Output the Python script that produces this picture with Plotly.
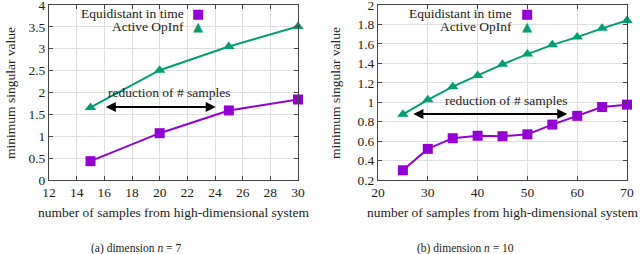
import plotly.graph_objects as go

# ---- data ----
x_a = [15, 20, 25, 30]
equi_a = [0.43, 1.07, 1.59, 1.84]
active_a = [1.66, 2.51, 3.05, 3.51]

x_b = [25, 30, 35, 40, 45, 50, 55, 60, 65, 70]
equi_b = [0.30, 0.52, 0.63, 0.655, 0.65, 0.67, 0.77, 0.86, 0.95, 0.975]
active_b = [0.875, 1.025, 1.16, 1.275, 1.39, 1.495, 1.59, 1.67, 1.76, 1.84]

xt_a = [12, 14, 16, 18, 20, 22, 24, 26, 28, 30]
yt_a = [0, 0.5, 1, 1.5, 2, 2.5, 3, 3.5, 4]
yl_a = ["0", "0.5", "1", "1.5", "2", "2.5", "3", "3.5", "4"]
xt_b = [20, 30, 40, 50, 60, 70]
yt_b = [0.2, 0.4, 0.6, 0.8, 1, 1.2, 1.4, 1.6, 1.8, 2]
yl_b = ["0.2", "0.4", "0.6", "0.8", "1", "1.2", "1.4", "1.6", "1.8", "2"]

arrow_a = [16.0, 24.05, 1.67]   # x start, x end, y
arrow_b = [26.8, 58.0, 0.88]
note_a = [20.7, 2.01]
note_b = [45.9, 1.02]

PURPLE = "#9400D3"
GREEN = "#009E73"
FONT = "Liberation Serif, DejaVu Serif, serif"
TXT = "#222"
FS = 13.5

fig = go.Figure()
for xs, eq, ac, xa, ya in [(x_a, equi_a, active_a, "x", "y"), (x_b, equi_b, active_b, "x2", "y2")]:
    fig.add_trace(go.Scatter(x=xs, y=eq, mode="lines+markers", xaxis=xa, yaxis=ya,
                             line=dict(color=PURPLE, width=2),
                             marker=dict(symbol="square", size=10, color=PURPLE),
                             showlegend=False, cliponaxis=False))
    fig.add_trace(go.Scatter(x=xs, y=ac, mode="lines+markers", xaxis=xa, yaxis=ya,
                             line=dict(color=GREEN, width=2),
                             marker=dict(symbol="triangle-up", size=10, color=GREEN),
                             showlegend=False, cliponaxis=False))

ydom = [1 - 180 / 254, 1 - 5 / 254]
axcommon = dict(showline=True, mirror="allticks", linecolor="#444", linewidth=1,
                ticks="inside", ticklen=4, tickcolor="#444", automargin=False,
                ticklabeloverflow="allow",
                showgrid=True, gridcolor="#dedede", gridwidth=1, zeroline=False,
                tickfont=dict(family=FONT, size=FS, color=TXT))

fig.update_layout(
    width=640, height=254, margin=dict(l=0, r=0, t=0, b=0),
    paper_bgcolor="white", plot_bgcolor="white",
    font=dict(family=FONT, size=FS, color=TXT),
    xaxis=dict(domain=[49 / 640, 298 / 640], range=[12, 30], tickvals=xt_a, anchor="y", **axcommon),
    yaxis=dict(domain=ydom, range=[0, 4], tickvals=yt_a, ticktext=yl_a, anchor="x", **axcommon),
    xaxis2=dict(domain=[378 / 640, 627 / 640], range=[20, 70], tickvals=xt_b, anchor="y2", **axcommon),
    yaxis2=dict(domain=ydom, range=[0.2, 2], tickvals=yt_b, ticktext=yl_b, anchor="x2", **axcommon),
)

ann = []
# arrows + notes
for (xs, xe, yy), (nx, ny), xr, yr in [(arrow_a, note_a, "x", "y"), (arrow_b, note_b, "x2", "y2")]:
    ann.append(dict(x=xe, y=yy, ax=xs, ay=yy, xref=xr, yref=yr, axref=xr, ayref=yr,
                    showarrow=True, arrowhead=2, startarrowhead=2, arrowside="end+start",
                    arrowwidth=2, arrowsize=1, startarrowsize=1, arrowcolor="black", text=""))
    ann.append(dict(x=nx, y=ny, xref=xr, yref=yr, text="reduction of # samples",
                    xanchor="center", yanchor="middle",
                    showarrow=False, font=dict(family=FONT, size=FS, color=TXT)))

# axis titles and captions
for cx, ylx, cap_x, cap in [(173.5, 10, 136, "(a) dimension <i>n</i> = 7"),
                            (502.5, 335, 465, "(b) dimension <i>n</i> = 10")]:
    ann.append(dict(x=cx / 640, y=1 - 212 / 254, xref="paper", yref="paper",
                    xanchor="center", yanchor="middle",
                    text="number of samples from high-dimensional system", showarrow=False,
                    font=dict(family=FONT, size=FS, color=TXT)))
    ann.append(dict(x=ylx / 640, y=1 - 93 / 254, xref="paper", yref="paper", textangle=-90,
                    xanchor="center", yanchor="middle",
                    text="minimum singular value", showarrow=False,
                    font=dict(family=FONT, size=FS, color=TXT)))
    ann.append(dict(x=cap_x / 640, y=1 - 248 / 254, xref="paper", yref="paper",
                    xanchor="center", yanchor="middle",
                    text=cap, showarrow=False, font=dict(family=FONT, size=11.5, color=TXT)))

# legends (text right, marker glyph)
for tx, mx in [(186, 198), (514, 527)]:
    for row_y, label, glyph, col in [(13, "Equidistant in time", "■", PURPLE),
                                     (26, "Active OpInf", "▲", GREEN)]:
        ann.append(dict(x=tx / 640, y=1 - row_y / 254, xref="paper", yref="paper",
                        xanchor="right", yanchor="middle", text=label, showarrow=False,
                        font=dict(family=FONT, size=FS, color=TXT)))
        ann.append(dict(x=mx / 640, y=1 - row_y / 254, xref="paper", yref="paper",
                        xanchor="center", yanchor="middle",
                        text=glyph, showarrow=False,
                        font=dict(family="DejaVu Sans", size=13, color=col)))

fig.update_layout(annotations=ann)
fig.write_html("out.html", config={"displayModeBar": False},
               post_script="document.body.style.margin='0';")
